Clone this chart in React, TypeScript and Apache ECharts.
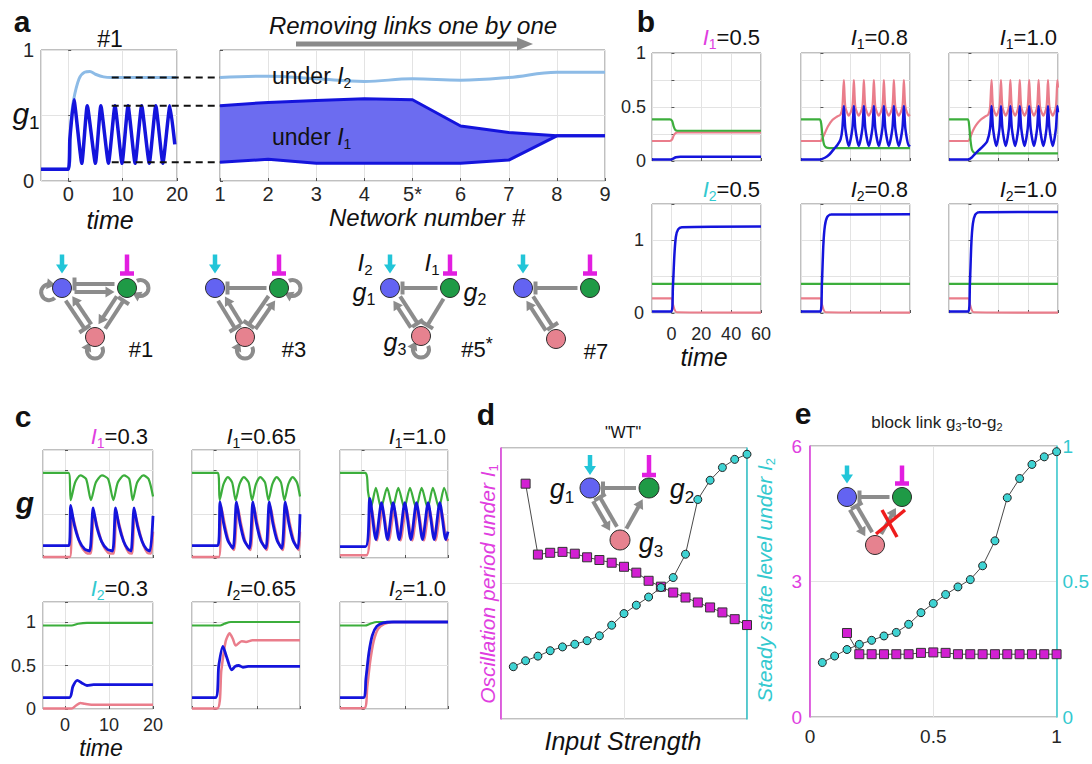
import React, { useEffect, useRef } from "react";
import * as echarts from "echarts";

// ================= DATA =================
// Panel a – time course of g1 in network #1
const aTimeI2 = [[-5,0.09],[0,0.09],[0.5,0.45],[1,0.62],[2,0.78],[3,0.83],[4,0.835],[5,0.815],[6.5,0.795],[8,0.79],[20,0.79]];
const aTimeI1 = [[-5,0.09],[0,0.09],[0.3,0.32],[1.05,0.62],[2.5,0.135],[3.5,0.575],[5.0,0.135],[6.0,0.575],[7.4,0.135],[8.6,0.575],[9.9,0.135],[11.0,0.575],[12.3,0.135],[13.5,0.575],[14.9,0.135],[16.1,0.575],[17.4,0.135],[18.7,0.575],[19.6,0.28]];
// Panel a – summary across networks
const netLabels = ["1","2","3","4","5*","6","7","8","9"];
const netI2Level = [0.79,0.80,0.78,0.76,0.78,0.77,0.79,0.83,0.83];
const netI1Upper = [0.575,0.60,0.614,0.627,0.62,0.42,0.37,0.345,0.345];
const netI1Lower = [0.143,0.166,0.136,0.136,0.136,0.136,0.16,0.345,0.345];

// Panel b – top row (I1 = 0.5, 0.8, 1.0)
const bT1Green = [[-13,0.385],[-1,0.385],[0.5,0.37],[1.5,0.32],[2.5,0.29],[4,0.28],[60,0.28]];
const bT1Pink = [[-13,0.185],[-1,0.185],[0.5,0.2],[1.5,0.235],[2.5,0.255],[4,0.265],[60,0.265]];
const bT1Blue = [[-13,0.015],[0,0.015],[3,0.035],[6,0.04],[60,0.04]];
const bT2Green = [[-13,0.385],[-0.5,0.385],[0.5,0.35],[1.5,0.22],[2.5,0.15],[4,0.125],[6,0.12],[60,0.12]];
const bT2Pink = [[-13,0.185],[0,0.185],[1,0.2],[3,0.26],[5,0.32],[8,0.38],[11,0.41],[13.5,0.43],[14.7,0.5],[15.7,0.75],[16.7,0.5],[19,0.42],[21.4,0.5],[22.4,0.75],[23.4,0.5],[25.7,0.42],[28.1,0.5],[29.1,0.75],[30.1,0.5],[32.4,0.42],[34.8,0.5],[35.8,0.75],[36.8,0.5],[39.1,0.42],[41.5,0.5],[42.5,0.75],[43.5,0.5],[45.8,0.42],[48.2,0.5],[49.2,0.75],[50.2,0.5],[52.5,0.42],[54.9,0.5],[55.9,0.75],[56.9,0.5],[59.2,0.42],[60,0.43]];
const bT2Blue = [[-13,0.015],[0,0.015],[3,0.03],[6,0.06],[9,0.11],[11.5,0.15],[13.5,0.2],[14.7,0.3],[15.7,0.51],[16.7,0.3],[19,0.14],[21.4,0.3],[22.4,0.51],[23.4,0.3],[25.7,0.14],[28.1,0.3],[29.1,0.51],[30.1,0.3],[32.4,0.14],[34.8,0.3],[35.8,0.51],[36.8,0.3],[39.1,0.14],[41.5,0.3],[42.5,0.51],[43.5,0.3],[45.8,0.14],[48.2,0.3],[49.2,0.51],[50.2,0.3],[52.5,0.14],[54.9,0.3],[55.9,0.51],[56.9,0.3],[59.2,0.14],[60,0.15]];
const bT3Green = [[-13,0.385],[-0.5,0.385],[0.5,0.33],[1.5,0.18],[2.5,0.1],[4,0.075],[6,0.07],[60,0.07]];
const bT3Pink = [[-13,0.185],[0,0.185],[1,0.21],[3,0.28],[5,0.33],[8,0.38],[11,0.41],[13.3,0.43],[14.5,0.5],[15.5,0.75],[16.5,0.5],[18.7,0.42],[20.8,0.5],[21.8,0.75],[22.8,0.5],[25,0.42],[27.1,0.5],[28.1,0.75],[29.1,0.5],[31.3,0.42],[33.4,0.5],[34.4,0.75],[35.4,0.5],[37.6,0.42],[39.7,0.5],[40.7,0.75],[41.7,0.5],[43.9,0.42],[46,0.5],[47,0.75],[48,0.5],[50.2,0.42],[52.3,0.5],[53.3,0.75],[54.3,0.5],[56.5,0.42],[58.6,0.5],[59.6,0.75],[60,0.68]];
const bT3Blue = [[-13,0.015],[0,0.015],[2,0.03],[4,0.06],[7,0.1],[10,0.14],[12.5,0.18],[14.5,0.3],[15.5,0.51],[16.5,0.3],[18.7,0.14],[20.8,0.3],[21.8,0.51],[22.8,0.3],[25,0.14],[27.1,0.3],[28.1,0.51],[29.1,0.3],[31.3,0.14],[33.4,0.3],[34.4,0.51],[35.4,0.3],[37.6,0.14],[39.7,0.3],[40.7,0.51],[41.7,0.3],[43.9,0.14],[46,0.3],[47,0.51],[48,0.3],[50.2,0.14],[52.3,0.3],[53.3,0.51],[54.3,0.3],[56.5,0.14],[58.6,0.3],[59.6,0.51],[60,0.45]];
// Panel b – bottom row (I2 = 0.5, 0.8, 1.0)
const bBGreen = [[-13,0.4],[60,0.4]];
const bBPink = [[-13,0.2],[0,0.2],[1,0.12],[2,0.05],[3.5,0.01],[60,0.005]];
const bB1Blue = [[-13,0.02],[0,0.02],[1,0.35],[2,0.8],[3,1.05],[4.5,1.15],[7,1.18],[60,1.19]];
const bB2Blue = [[-13,0.02],[0,0.02],[1,0.4],[2,0.95],[3,1.2],[4.5,1.32],[7,1.355],[60,1.36]];
const bB3Blue = [[-13,0.02],[0,0.02],[1,0.4],[2,0.97],[3,1.23],[4.5,1.35],[7,1.385],[60,1.39]];

// Panel c – top row (I1 = 0.3, 0.65, 1.0)
const cT1Green = [[-5,0.97],[0.8,0.97],[1.3,0.66],[2.3,0.86],[3.5,0.94],[4.8,0.9],[5.9,0.66],[7,0.86],[8.4,0.94],[9.8,0.9],[11,0.66],[12,0.86],[13.4,0.94],[14.6,0.9],[15.4,0.66],[16.4,0.86],[17.8,0.94],[19,0.9],[20,0.7]];
const cT1Pink = [[-5,0.01],[1.1,0.01],[1.6,0.5],[2.5,0.33],[3.5,0.15],[4.8,0.06],[5.8,0.05],[6.6,0.5],[7.5,0.33],[8.6,0.15],[9.8,0.06],[11,0.05],[11.7,0.5],[12.6,0.33],[13.6,0.15],[14.5,0.06],[15.2,0.05],[15.9,0.5],[16.8,0.33],[17.8,0.15],[18.7,0.06],[19.5,0.05],[20,0.3]];
const cT1Blue = [[-5,0.14],[0.9,0.14],[1.3,0.6],[2.1,0.38],[3.2,0.2],[4.5,0.1],[5.6,0.08],[6.4,0.57],[7.2,0.36],[8.3,0.19],[9.6,0.1],[10.8,0.08],[11.5,0.57],[12.3,0.36],[13.3,0.19],[14.3,0.1],[15.0,0.08],[15.7,0.57],[16.5,0.36],[17.5,0.19],[18.5,0.1],[19.3,0.08],[20,0.48]];
const cT2Green = [[-5,0.97],[1.0,0.97],[1.4,0.66],[2.3,0.84],[3.3,0.92],[4.3,0.86],[5.1,0.66],[6.0,0.84],[7.0,0.92],[8.1,0.86],[8.9,0.66],[9.8,0.84],[10.8,0.92],[11.9,0.86],[12.7,0.66],[13.6,0.84],[14.6,0.92],[15.6,0.86],[16.4,0.66],[17.3,0.84],[18.3,0.92],[19.3,0.86],[20,0.7]];
const cT2Pink = [[-5,0.01],[1.2,0.01],[1.8,0.58],[2.6,0.38],[3.6,0.18],[4.7,0.09],[5.6,0.58],[6.4,0.38],[7.4,0.18],[8.5,0.09],[9.4,0.58],[10.2,0.38],[11.2,0.18],[12.3,0.09],[13.2,0.58],[14,0.38],[15,0.18],[16,0.09],[16.9,0.58],[17.7,0.38],[18.7,0.18],[19.7,0.09],[20,0.3]];
const cT2Blue = [[-5,0.14],[1.0,0.14],[1.5,0.64],[2.3,0.4],[3.3,0.2],[4.5,0.11],[5.3,0.64],[6.1,0.4],[7.1,0.2],[8.3,0.11],[9.1,0.64],[9.9,0.4],[10.9,0.2],[12.1,0.11],[12.9,0.64],[13.7,0.4],[14.7,0.2],[15.8,0.11],[16.6,0.64],[17.4,0.4],[18.4,0.2],[19.5,0.11],[20,0.5]];
const cT3Green = [[-5,0.97],[0.8,0.97],[1.5,0.75],[2.2,0.58],[3.3,0.8],[4.5,0.57],[5.9,0.8],[7.2,0.57],[8.5,0.8],[9.9,0.57],[11.2,0.8],[12.6,0.57],[13.9,0.8],[15.3,0.57],[16.5,0.8],[17.9,0.57],[19.1,0.8],[20,0.65]];
const cT3Pink = [[-5,0.03],[1.1,0.03],[2.2,0.6],[3.6,0.2],[4.9,0.56],[6.3,0.2],[7.6,0.56],[9.0,0.2],[10.3,0.56],[11.7,0.2],[13.0,0.56],[14.4,0.2],[15.7,0.56],[17.1,0.2],[18.4,0.56],[19.8,0.2],[20,0.22]];
const cT3Blue = [[-5,0.13],[0.9,0.13],[1.9,0.68],[3.3,0.21],[4.6,0.63],[6.0,0.21],[7.3,0.63],[8.7,0.21],[10,0.63],[11.4,0.21],[12.7,0.63],[14.1,0.21],[15.4,0.63],[16.8,0.21],[18.1,0.63],[19.5,0.21],[20,0.3]];
// Panel c – bottom row (I2 = 0.3, 0.65, 1.0)
const cB1Green = [[-5,0.96],[1.5,0.96],[3,0.98],[5,0.99],[20,0.99]];
const cB1Pink = [[-5,0.005],[1.5,0.005],[2.5,0.04],[3.5,0.07],[4.5,0.06],[6,0.05],[20,0.05]];
const cB1Blue = [[-5,0.13],[1,0.13],[1.8,0.26],[2.8,0.33],[3.8,0.3],[5,0.27],[6.5,0.28],[20,0.28]];
const cB2Green = [[-5,0.96],[1.5,0.96],[2.5,0.98],[4,1.0],[20,1.0]];
const cB2Pink = [[-5,0.005],[0.8,0.005],[1.8,0.45],[2.8,0.78],[3.7,0.87],[4.5,0.8],[5.1,0.73],[6.5,0.78],[7.5,0.77],[9,0.79],[20,0.79]];
const cB2Blue = [[-5,0.13],[0.4,0.13],[1.2,0.5],[2.15,0.72],[3,0.6],[4.2,0.45],[5.0,0.49],[5.8,0.5],[6.8,0.48],[8,0.49],[20,0.49]];
const cB3Green = [[-5,0.96],[0.8,0.96],[2,0.98],[3.5,1.0],[20,1.0]];
const cB3Pink = [[-5,0.01],[0.6,0.01],[1.3,0.25],[2,0.55],[2.8,0.78],[3.8,0.92],[5.3,0.98],[7.5,1.0],[20,1.0]];
const cB3Blue = [[-5,0.13],[0.4,0.13],[1,0.35],[1.7,0.65],[2.5,0.85],[3.5,0.95],[5,0.99],[7,1.0],[20,1.0]];

// Panel d – "WT"
const dPeriodX = [0.1,0.15,0.2,0.25,0.3,0.35,0.4,0.45,0.5,0.55,0.6,0.65,0.7,0.75,0.8,0.85,0.9,0.95,1.0];
const dPeriod = [5.21,3.64,3.68,3.70,3.66,3.58,3.52,3.46,3.37,3.24,3.06,2.93,2.80,2.69,2.58,2.47,2.36,2.21,2.08];
const dLevelX = [0.05,0.1,0.15,0.2,0.25,0.3,0.35,0.4,0.45,0.5,0.55,0.6,0.65,0.7,0.75,0.8,0.85,0.9,0.95,1.0];
const dLevel = [0.193,0.215,0.232,0.252,0.266,0.276,0.289,0.307,0.346,0.389,0.420,0.450,0.485,0.522,0.608,0.81,0.881,0.928,0.958,0.977];
// Panel e – block link g3-to-g2
const ePeriodX = [0.15,0.2,0.25,0.3,0.35,0.4,0.45,0.5,0.55,0.6,0.65,0.7,0.75,0.8,0.85,0.9,0.95,1.0];
const ePeriod = [1.86,1.39,1.39,1.39,1.39,1.39,1.42,1.43,1.42,1.39,1.39,1.39,1.39,1.39,1.39,1.39,1.39,1.39];
const eLevelX = [0.05,0.1,0.15,0.2,0.25,0.3,0.35,0.4,0.45,0.5,0.55,0.6,0.65,0.7,0.75,0.8,0.85,0.9,0.95,1.0];
const eLevel = [0.201,0.225,0.249,0.268,0.283,0.299,0.312,0.342,0.385,0.419,0.452,0.48,0.507,0.558,0.65,0.809,0.88,0.932,0.96,0.979];

// ================= STYLE =================
const FF = 'Arial, "Liberation Sans", Helvetica, sans-serif';
const BLUE = "#1414dc";
const LBLUE = "#8dbbe6";
const GREEN = "#3cae3c";
const PINK = "#ea7d8b";
const BAND = "#6c6cf0";
const MAG = "#e03ee0";
const CYAN = "#33c9cf";
const MAGF = "#d21fd2";
const CYANF = "#3fd3d3";
const LINK = "#8c8c8c";
const CYAN_IN = "#22c5d8";
const MAG_IN = "#e21ee0";
const AXT = "#262626";

type P = [number, number];

// grid layout: [left, top, width, height]
const GRIDS: number[][] = [
  [41, 50, 136, 131], [220, 50, 385, 131],
  [652, 53, 109, 108], [801, 53, 109, 108], [949, 53, 109, 108],
  [652, 204, 109, 109], [801, 204, 109, 109], [949, 204, 109, 109],
  [43, 450, 110, 108], [192, 450, 108, 108], [340, 450, 108, 108],
  [43, 602, 110, 107], [192, 602, 108, 107], [340, 602, 108, 107],
  [501, 448, 246, 271], [810, 446, 248, 271],
];

function axisBase(gi: number, extra: any) {
  return Object.assign({
    type: "value", gridIndex: gi,
    axisLine: { show: false },
    axisTick: { show: true, inside: true, length: 3, lineStyle: { color: "#555" } },
    splitLine: { show: true, lineStyle: { color: "#e3e3e3", width: 1 } },
    axisLabel: { show: false },
  }, extra);
}
function lbl(fs: number, margin: number, extra: any = {}) {
  return Object.assign({ show: true, fontSize: fs, color: AXT, fontFamily: FF, margin, showMinLabel: false }, extra);
}
const pick = (vals: number[], names: string[]) => (v: number) => {
  for (let i = 0; i < vals.length; i++) if (Math.abs(v - vals[i]) < 1e-6) return names[i];
  return "";
};

function S(gi: number, data: any[], color: string, width: number, smooth: number | boolean = 0.25, extra: any = {}) {
  return Object.assign({
    type: "line", xAxisIndex: gi, yAxisIndex: gi, data, symbol: "none", showSymbol: false,
    smooth, lineStyle: { color, width }, itemStyle: { color }, silent: true, animation: false, z: 3,
  }, extra);
}

function buildOption() {
  const xAxes: any[] = [];
  const yAxes: any[] = [];
  // a
  xAxes.push(axisBase(0, { min: -5, max: 20, splitNumber: 2, axisLabel: lbl(20, 3) }));
  xAxes.push(axisBase(1, { type: "category", data: netLabels, boundaryGap: false, axisLabel: lbl(20, 3, { showMinLabel: true, interval: 0 }), axisTick: { show: true, inside: true, length: 3, alignWithLabel: true, lineStyle: { color: "#555" } } }));
  yAxes.push(axisBase(0, { min: 0, max: 1, interval: 0.5, axisLabel: lbl(20, 7, { showMinLabel: true, formatter: pick([0, 1], ["0", "1"]) }) }));
  yAxes.push(axisBase(1, { min: 0, max: 1, interval: 0.5 }));
  // b
  for (let k = 0; k < 6; k++) {
    const gi = 2 + k;
    xAxes.push(axisBase(gi, { min: -13, max: 60, splitNumber: 3, axisLabel: gi === 5 ? lbl(18, 12) : { show: false } }));
    if (k < 3) yAxes.push(axisBase(gi, { min: 0, max: 1, interval: 0.25, axisLabel: gi === 2 ? lbl(18, 6, { showMinLabel: true, formatter: pick([0, 0.5, 1], ["0", "0.5", "1"]) }) : { show: false } }));
    else yAxes.push(axisBase(gi, { min: 0, max: 1.5, interval: 0.5, axisLabel: gi === 5 ? lbl(18, 8, { showMinLabel: true, formatter: pick([0, 1], ["0", "1"]) }) : { show: false } }));
  }
  // c
  for (let k = 0; k < 6; k++) {
    const gi = 8 + k;
    xAxes.push(axisBase(gi, { min: -5, max: 20, splitNumber: 2, axisLabel: gi === 11 ? lbl(18, 7) : { show: false } }));
    yAxes.push(axisBase(gi, { min: 0, max: 1.23, interval: 0.5, axisLabel: gi === 11 ? lbl(18, 7, { showMinLabel: true, formatter: pick([0, 0.5, 1], ["0", "0.5", "1"]) }) : { show: false } }));
  }
  // d
  xAxes.push(axisBase(14, { min: 0, max: 1, interval: 0.5, axisTick: { show: false } }));
  yAxes.push(axisBase(14, { min: 0, max: 6, interval: 3, axisTick: { show: false }, axisLine: { show: true, lineStyle: { color: MAG, width: 1.5 } } }));
  // e
  xAxes.push(axisBase(15, { min: 0, max: 1, interval: 0.5, axisTick: { show: false }, axisLabel: lbl(19, 10, { showMinLabel: true, formatter: pick([0, 0.5, 1], ["0", "0.5", "1"]) }) }));
  yAxes.push(axisBase(15, { min: 0, max: 6, interval: 3, axisTick: { show: false }, axisLine: { show: true, lineStyle: { color: MAG, width: 1.5 } }, axisLabel: lbl(19, 8, { showMinLabel: true, color: MAG }) }));
  // right axes d (16), e (17)
  yAxes.push(axisBase(14, { position: "right", min: 0, max: 1, interval: 0.5, splitLine: { show: false }, axisTick: { show: false }, axisLine: { show: true, lineStyle: { color: CYAN, width: 1.5 } } }));
  yAxes.push(axisBase(15, { position: "right", min: 0, max: 1, interval: 0.5, splitLine: { show: false }, axisTick: { show: false }, axisLine: { show: true, lineStyle: { color: CYAN, width: 1.5 } }, axisLabel: lbl(19, 6, { showMinLabel: true, color: CYAN, formatter: pick([0, 0.5, 1], ["0", "0.5", "1"]) }) }));

  const series: any[] = [];
  // a
  series.push(S(0, aTimeI2, LBLUE, 3, 0.3));
  series.push(S(0, aTimeI1, BLUE, 3.5, 0.15));
  series.push({ type: "line", xAxisIndex: 1, yAxisIndex: 1, data: netI1Lower, stack: "band", symbol: "none", lineStyle: { opacity: 0, width: 0 }, silent: true, z: 2 });
  series.push({ type: "line", xAxisIndex: 1, yAxisIndex: 1, data: netI1Upper.map((u, i) => +(u - netI1Lower[i]).toFixed(4)), stack: "band", symbol: "none", lineStyle: { opacity: 0, width: 0 }, areaStyle: { color: BAND, opacity: 1 }, silent: true, z: 2 });
  series.push(S(1, netI1Upper, BLUE, 3, false));
  series.push(S(1, netI1Lower, BLUE, 3, false));
  series.push(S(1, netI2Level, LBLUE, 3, 0.4));
  // b
  series.push(S(2, bT1Pink, PINK, 2.2), S(2, bT1Green, GREEN, 2.2), S(2, bT1Blue, BLUE, 2.5));
  series.push(S(3, bT2Pink, PINK, 2.2), S(3, bT2Green, GREEN, 2.2), S(3, bT2Blue, BLUE, 2.5));
  series.push(S(4, bT3Pink, PINK, 2.2), S(4, bT3Green, GREEN, 2.2), S(4, bT3Blue, BLUE, 2.5));
  series.push(S(5, bBGreen, GREEN, 2.2), S(5, bBPink, PINK, 2.2), S(5, bB1Blue, BLUE, 2.5));
  series.push(S(6, bBGreen, GREEN, 2.2), S(6, bBPink, PINK, 2.2), S(6, bB2Blue, BLUE, 2.5));
  series.push(S(7, bBGreen, GREEN, 2.2), S(7, bBPink, PINK, 2.2), S(7, bB3Blue, BLUE, 2.5));
  // c
  series.push(S(8, cT1Green, GREEN, 2.2), S(8, cT1Pink, PINK, 2.5), S(8, cT1Blue, BLUE, 2.8));
  series.push(S(9, cT2Green, GREEN, 2.2), S(9, cT2Pink, PINK, 2.5), S(9, cT2Blue, BLUE, 2.8));
  series.push(S(10, cT3Green, GREEN, 2.2), S(10, cT3Pink, PINK, 2.5), S(10, cT3Blue, BLUE, 2.8));
  series.push(S(11, cB1Green, GREEN, 2.2), S(11, cB1Pink, PINK, 2.5), S(11, cB1Blue, BLUE, 2.8));
  series.push(S(12, cB2Green, GREEN, 2.2), S(12, cB2Pink, PINK, 2.5), S(12, cB2Blue, BLUE, 2.8));
  series.push(S(13, cB3Green, GREEN, 2.2), S(13, cB3Pink, PINK, 2.5), S(13, cB3Blue, BLUE, 2.8));
  // d, e
  const sq = (xi: number, yi: number, xs: number[], ys: number[]) => ({
    type: "line", xAxisIndex: xi, yAxisIndex: yi, data: xs.map((x, i) => [x, ys[i]]),
    symbol: "rect", symbolSize: 9, showSymbol: true, showAllSymbol: true, silent: true, z: 4,
    lineStyle: { color: "#4a4a4a", width: 1 }, itemStyle: { color: MAGF, borderColor: "#333", borderWidth: 1 },
  });
  const ci = (xi: number, yi: number, xs: number[], ys: number[]) => ({
    type: "line", xAxisIndex: xi, yAxisIndex: yi, data: xs.map((x, i) => [x, ys[i]]),
    symbol: "circle", symbolSize: 8, showSymbol: true, showAllSymbol: true, silent: true, z: 5,
    lineStyle: { color: "#4a4a4a", width: 1 }, itemStyle: { color: CYANF, borderColor: "#222", borderWidth: 1 },
  });
  series.push(sq(14, 14, dPeriodX, dPeriod), ci(14, 16, dLevelX, dLevel));
  series.push(sq(15, 15, ePeriodX, ePeriod), ci(15, 17, eLevelX, eLevel));

  return {
    animation: false,
    backgroundColor: "#ffffff",
    textStyle: { fontFamily: FF },
    grid: GRIDS.map(([left, top, width, height]) => ({ left, top, width, height, show: true, borderColor: "#808080", borderWidth: 1, containLabel: false })),
    xAxis: xAxes,
    yAxis: yAxes,
    series,
  };
}

// ================= GRAPHIC HELPERS =================
function txt(x: number, y: number, text: string, size: number, extra: any = {}, align = "center", rot = 0) {
  const el: any = {
    type: "text", x, y, silent: true, z: 100,
    style: Object.assign({ text, fontSize: size, fontFamily: FF, fill: "#111", align, verticalAlign: "middle", textAlign: align, textVerticalAlign: "middle" }, extra),
  };
  if (rot) el.rotation = rot;
  return el;
}
function rich(size: number, mainColor: string, opts: any = {}) {
  return {
    m: { fontSize: size, fontStyle: opts.mainNormal ? "normal" : "italic", fontWeight: opts.bold ? "bold" : "normal", fill: mainColor, fontFamily: FF },
    s: { fontSize: Math.round(size * 0.62), fill: opts.subColor || mainColor, fontFamily: FF, padding: [Math.round(size * 0.6), 0, 0, 0] },
    n: { fontSize: size, fill: opts.nColor || "#111", fontFamily: FF, fontStyle: opts.nItalic ? "italic" : "normal" },
    p: { fontSize: Math.round(size * 0.8), fill: "#111", fontFamily: FF, padding: [0, 0, Math.round(size * 0.5), 0] },
  };
}
function seg(a: P, b: P, w: number, color: string, extra: any = {}) {
  return { type: "line", silent: true, z: 50, shape: { x1: a[0], y1: a[1], x2: b[0], y2: b[1] }, style: Object.assign({ stroke: color, lineWidth: w }, extra) };
}
function head(tip: P, ux: number, uy: number, len: number, half: number, color: string) {
  const bx = tip[0] - ux * len, by = tip[1] - uy * len;
  return { type: "polygon", silent: true, z: 50, shape: { points: [[tip[0], tip[1]], [bx - uy * half, by + ux * half], [bx + uy * half, by - ux * half]] }, style: { fill: color } };
}
const LW = 4;
function link(a: P, b: P, r: number, off: number, kind: string) {
  const dx = b[0] - a[0], dy = b[1] - a[1], L = Math.hypot(dx, dy), ux = dx / L, uy = dy / L, px = -uy, py = ux;
  const g = r + 3;
  const s: P = [a[0] + ux * g + px * off, a[1] + uy * g + py * off];
  const e: P = [b[0] - ux * g + px * off, b[1] - uy * g + py * off];
  if (kind === "arrow") return [seg(s, [e[0] - ux * 6, e[1] - uy * 6], LW, LINK), head(e, ux, uy, 9, 5.5, LINK)];
  return [seg(s, e, LW, LINK), seg([e[0] + px * 6.5, e[1] + py * 6.5], [e[0] - px * 6.5, e[1] - py * 6.5], LW, LINK)];
}
function loop(c: P, r: number, dir: number) {
  const lr = 8, d = r + 4;
  const lx = c[0] + Math.cos(dir) * d, ly = c[1] + Math.sin(dir) * d;
  const back = dir + Math.PI;
  const a0 = back + 1.1, a1 = back - 1.1 + 2 * Math.PI;
  const ex = lx + Math.cos(a1) * lr, ey = ly + Math.sin(a1) * lr;
  const tx = -Math.sin(a1), ty = Math.cos(a1);
  return [
    { type: "arc", silent: true, z: 50, shape: { cx: lx, cy: ly, r: lr, startAngle: a0, endAngle: a1, clockwise: true }, style: { stroke: LINK, lineWidth: LW, fill: "none" } },
    head([ex + tx * 5, ey + ty * 5], tx, ty, 8.5, 5.5, LINK),
  ];
}
function inputs(B: P, G: P, r: number, gap: number, len: number) {
  const tb = B[1] - r - gap, tg = G[1] - r - gap;
  return [
    seg([B[0], tb - len], [B[0], tb - 6], 4.5, CYAN_IN),
    head([B[0], tb], 0, 1, 9, 6, CYAN_IN),
    seg([G[0], tg - len], [G[0], tg], 4.5, MAG_IN),
    seg([G[0] - 7, tg], [G[0] + 7, tg], 4.5, MAG_IN),
  ];
}
function nodes(B: P, G: P, Pn: P, r: number) {
  const c = (p: P, fill: string) => ({ type: "circle", silent: true, z: 60, shape: { cx: p[0], cy: p[1], r }, style: { fill, stroke: "#2b2b2b", lineWidth: 1 } });
  return [c(B, "#6363f2"), c(G, "#1f9a46"), c(Pn, "#e6828f")];
}

function buildGraphics(chart: any) {
  const els: any[] = [];
  // panel letters
  els.push(txt(22, 21, "a", 30, { fontWeight: "bold" }));
  els.push(txt(646, 21, "b", 30, { fontWeight: "bold" }));
  els.push(txt(23, 416, "c", 30, { fontWeight: "bold" }));
  els.push(txt(486, 414, "d", 30, { fontWeight: "bold" }));
  els.push(txt(803, 413, "e", 30, { fontWeight: "bold" }));

  // panel a texts
  els.push(txt(110, 39, "#1", 23));
  els.push(txt(26, 113, "{m|g}{s|1}", 30, { rich: rich(30, "#111") }));
  els.push(txt(110, 220, "time", 25, { fontStyle: "italic" }));
  els.push(txt(427, 217, "Network number #", 24, { fontStyle: "italic" }));
  els.push(txt(413, 25, "Removing links one by one", 24, { fontStyle: "italic" }));
  els.push(seg([296, 44], [517, 44], 5, "#8a8a8a"));
  els.push(head([533, 44], 1, 0, 16, 6.5, "#8a8a8a"));
  els.push(txt(272, 76, "{n|under }{m|I}{s|2}", 23, { rich: rich(23, "#111") }, "left"));
  els.push(txt(272, 137, "{n|under }{m|I}{s|1}", 23, { rich: rich(23, "#111") }, "left"));

  // dashed connectors (positions through the axes)
  const lv = [aTimeI2[aTimeI2.length - 1][1], netI1Upper[0], netI1Lower[0]];
  lv.forEach((v) => {
    const p1 = chart.convertToPixel({ xAxisIndex: 0, yAxisIndex: 0 }, [8, v]);
    const p2 = chart.convertToPixel({ xAxisIndex: 1, yAxisIndex: 1 }, [0, v]);
    els.push(seg([p1[0], p1[1]], [p2[0], p2[1]], 2, "#111", { lineDash: [7, 5] }));
  });

  // panel b titles
  const bt = [["I", "1", "=0.5", MAG], ["I", "1", "=0.8", "#111"], ["I", "1", "=1.0", "#111"]];
  const bx = [760, 908, 1057];
  bt.forEach((t, i) => els.push(txt(bx[i], 37, `{m|${t[0]}}{s|${t[1]}}{n|${t[2]}}`, 22, { rich: rich(22, t[3]) }, "right")));
  const bb = [["I", "2", "=0.5", CYAN], ["I", "2", "=0.8", "#111"], ["I", "2", "=1.0", "#111"]];
  bb.forEach((t, i) => els.push(txt(bx[i], 189, `{m|${t[0]}}{s|${t[1]}}{n|${t[2]}}`, 22, { rich: rich(22, t[3]) }, "right")));
  els.push(txt(704, 357, "time", 25, { fontStyle: "italic" }));

  // panel c titles
  const cx = [148, 296, 446];
  const ct = [["1", "=0.3", MAG], ["1", "=0.65", "#111"], ["1", "=1.0", "#111"]];
  ct.forEach((t, i) => els.push(txt(cx[i], 436, `{m|I}{s|${t[0]}}{n|${t[1]}}`, 22, { rich: rich(22, t[2]) }, "right")));
  const cb = [["2", "=0.3", CYAN], ["2", "=0.65", "#111"], ["2", "=1.0", "#111"]];
  cb.forEach((t, i) => els.push(txt(cx[i], 588, `{m|I}{s|${t[0]}}{n|${t[1]}}`, 22, { rich: rich(22, t[2]) }, "right")));
  els.push(txt(25, 502, "g", 30, { fontStyle: "italic", fontWeight: "bold" }));
  els.push(txt(101, 748, "time", 23, { fontStyle: "italic" }));

  // panel d texts
  els.push(txt(623, 432, '"WT"', 16));
  els.push(txt(623, 741, "Input Strength", 25, { fontStyle: "italic" }));
  els.push(txt(487, 584, "{m|Oscillation period under I}{s|1}", 21, { rich: rich(21, MAG) }, "center", Math.PI / 2));
  els.push(txt(764, 580, "{m|Steady state level under I}{s|2}", 21, { rich: rich(21, CYAN) }, "center", Math.PI / 2));

  // panel e title
  els.push(txt(937, 422, "{n|block link g}{s|3}{n|-to-g}{s|2}", 17, { rich: rich(17, "#222", { mainNormal: true, nColor: "#222" }) }));

  // ---- network diagrams ----
  const r = 9.5;
  // #1
  {
    const B: P = [62, 288], G: P = [127, 288], Pn: P = [95, 337];
    els.push(...loop(B, r, Math.PI * 0.9), ...loop(G, r, 0), ...loop(Pn, r, Math.PI / 2));
    els.push(...link(G, B, r, 4, "bar"), ...link(B, G, r, 4, "arrow"));
    els.push(...link(B, Pn, r, 4, "bar"), ...link(Pn, B, r, 4, "arrow"));
    els.push(...link(G, Pn, r, 4, "arrow"), ...link(Pn, G, r, 4, "bar"));
    els.push(...inputs(B, G, r, 5, 19), ...nodes(B, G, Pn, r));
    els.push(txt(141, 349, "#1", 22));
  }
  // #3
  {
    const B: P = [215, 288], G: P = [279, 288], Pn: P = [245, 337];
    els.push(...loop(G, r, 0), ...loop(Pn, r, Math.PI / 2));
    els.push(...link(G, B, r, 0, "bar"));
    els.push(...link(B, Pn, r, 4, "bar"), ...link(Pn, B, r, 4, "arrow"));
    els.push(...link(G, Pn, r, 4, "bar"), ...link(Pn, G, r, 4, "arrow"));
    els.push(...inputs(B, G, r, 5, 19), ...nodes(B, G, Pn, r));
    els.push(txt(294, 349, "#3", 22));
  }
  // #5*
  {
    const B: P = [390, 288], G: P = [450, 288], Pn: P = [421, 336];
    els.push(...loop(Pn, r, Math.PI / 2));
    els.push(...link(G, B, r, 0, "bar"));
    els.push(...link(Pn, B, r, -4, "arrow"), ...link(B, Pn, r, -4, "bar"));
    els.push(...link(G, Pn, r, 0, "bar"));
    els.push(...inputs(B, G, r, 5, 19), ...nodes(B, G, Pn, r));
    els.push(txt(477, 349, "{n|#5}{p|*}", 22, { rich: rich(22, "#111") }));
    els.push(txt(365, 262, "{m|I}{s|2}", 24, { rich: rich(24, "#111") }));
    els.push(txt(432, 262, "{m|I}{s|1}", 24, { rich: rich(24, "#111") }));
    els.push(txt(364, 292, "{m|g}{s|1}", 25, { rich: rich(25, "#111") }));
    els.push(txt(475, 292, "{m|g}{s|2}", 25, { rich: rich(25, "#111") }));
    els.push(txt(395, 342, "{m|g}{s|3}", 25, { rich: rich(25, "#111") }));
  }
  // #7
  {
    const B: P = [523, 288], G: P = [590, 288], Pn: P = [556, 339];
    els.push(...link(G, B, r, 0, "bar"));
    els.push(...link(Pn, B, r, -4, "arrow"), ...link(B, Pn, r, -4, "bar"));
    els.push(...inputs(B, G, r, 5, 19), ...nodes(B, G, Pn, r));
    els.push(txt(596, 351, "#7", 22));
  }
  // d inset
  {
    const rr = 10;
    const B: P = [590, 488], G: P = [649, 488], Pn: P = [620, 540];
    els.push(...link(G, B, rr, 0, "bar"));
    els.push(...link(B, Pn, rr, 4, "arrow"), ...link(Pn, B, rr, 4, "bar"));
    els.push(...link(Pn, G, rr, 0, "arrow"));
    els.push(...inputs(B, G, rr, 3, 20), ...nodes(B, G, Pn, rr));
    els.push(txt(562, 489, "{m|g}{s|1}", 27, { rich: rich(27, "#111") }));
    els.push(txt(682, 489, "{m|g}{s|2}", 27, { rich: rich(27, "#111") }));
    els.push(txt(651, 543, "{m|g}{s|3}", 27, { rich: rich(27, "#111") }));
  }
  // e inset
  {
    const rr = 9.5;
    const B: P = [847, 497], G: P = [902, 497], Pn: P = [875, 545];
    els.push(...link(G, B, rr, 0, "bar"));
    els.push(...link(B, Pn, rr, 4, "arrow"), ...link(Pn, B, rr, 4, "bar"));
    els.push(...link(Pn, G, rr, 0, "arrow"));
    els.push(...inputs(B, G, rr, 4, 18), ...nodes(B, G, Pn, rr));
    els.push(seg([876, 534], [905, 510], 3.5, "#ee1c1c"), seg([882, 510], [897, 537], 3.5, "#ee1c1c"));
  }
  return els;
}

export default function App() {
  const ref = useRef<HTMLDivElement>(null);
  useEffect(() => {
    const chart = echarts.init(ref.current as HTMLDivElement, null, { renderer: "svg" });
    chart.setOption(buildOption() as any);
    chart.setOption({ graphic: buildGraphics(chart) } as any);
    return () => chart.dispose();
  }, []);
  return <div ref={ref} style={{ position: "fixed", left: 0, top: 0, width: 1092, height: 764, background: "#fff" }} />;
}
